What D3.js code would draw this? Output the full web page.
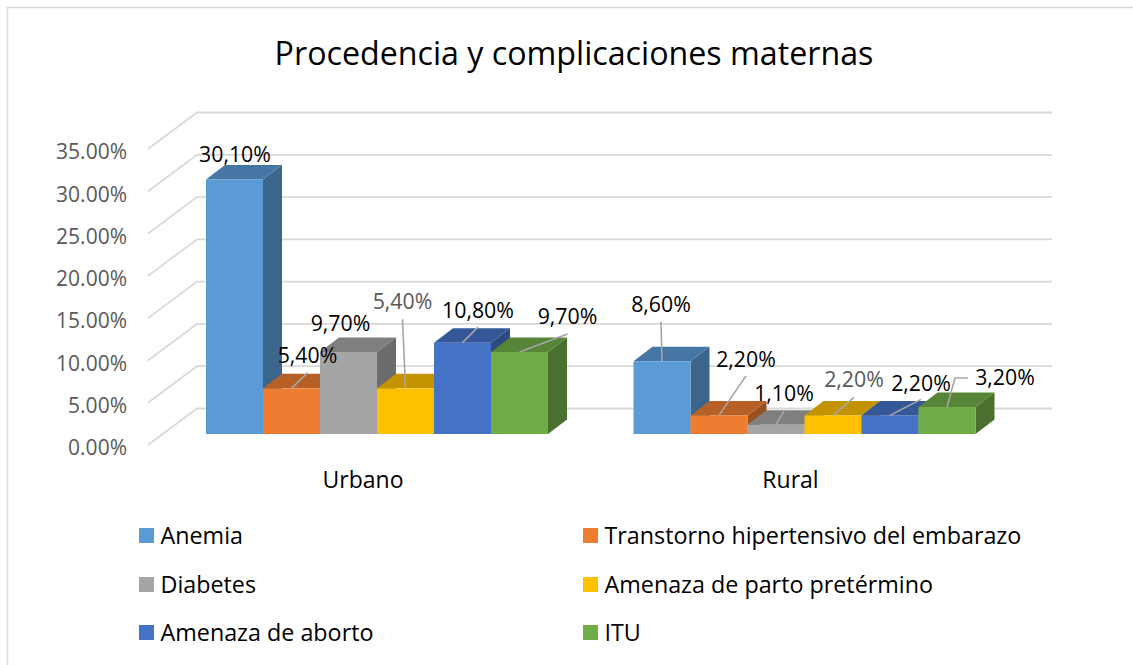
<!DOCTYPE html>
<html><head><meta charset="utf-8">
<script src="https://cdnjs.cloudflare.com/ajax/libs/d3/7.8.5/d3.min.js"></script>
<style>html,body{margin:0;padding:0;background:#fff}svg{display:block}text{font-family:"Open Sans",sans-serif}</style>
</head><body><svg id="c" width="1133" height="665"></svg>
<script>
const title = "Procedencia y complicaciones maternas";
const categories = ["Urbano", "Rural"];
const seriesNames = ["Anemia", "Transtorno hipertensivo del embarazo", "Diabetes", "Amenaza de parto pretérmino", "Amenaza de aborto", "ITU"];
const seriesColors = ["#5B9BD5", "#ED7D31", "#A5A5A5", "#FFC000", "#4472C4", "#70AD47"];
const urbanoValues = [30.1, 5.4, 9.7, 5.4, 10.8, 9.7];
const ruralValues = [8.6, 2.2, 1.1, 2.2, 2.2, 3.2];
const tickValues = [0, 5, 10, 15, 20, 25, 30, 35];

// Layout (label placement relative to the top of each bar: label dx, dy; leader elbow points)
const urbanoLabels = [
  {dx: 0.5, dy: -25, c: "#000"},
  {dx: 16, dy: -33, c: "#000", leader: [[16, -15.5]]},
  {dx: -8, dy: -28, c: "#000"},
  {dx: -3, dy: -86.5, c: "#595959", leader: [[-3, -69]]},
  {dx: 15.5, dy: -32.5, c: "#000", leader: [[15.5, -15.5]]},
  {dx: 48, dy: -35, c: "#000", leader: [[48, -18]]}
];
const ruralLabels = [
  {dx: -1, dy: -57, c: "#000", leader: [[-1, -39.5]]},
  {dx: 27, dy: -56, c: "#000", leader: [[27, -39.5]]},
  {dx: 8, dy: -31.5, c: "#000", leader: [[8, -13.5]]},
  {dx: 21, dy: -36, c: "#595959", leader: [[21, -18]]},
  {dx: 31, dy: -32, c: "#000", leader: [[31, -16]]},
  {dx: 58, dy: -29, c: "#000", leader: [[8, -29], [21, -29]]}
];

const svg = d3.select("#c");
const W = 1133, H = 665;
const wallX0 = 148, wallFloorY = 445, wallTopY = 149;
const backDX = 49, backDY = 36.5, backX1 = 1052;
const barFloorY = 434, depthX = 19, depthY = 14.5;

const yWall = d3.scaleLinear().domain([0, 35]).range([wallFloorY, wallTopY]);
const yBar = v => yWall(v) - (wallFloorY - barFloorY);

// Frame
svg.append("path").attr("d", `M7.5,${H}V7.5H${W}`).attr("fill", "none").attr("stroke", "#d9d9d9").attr("stroke-width", 1.6);

// Title
svg.append("text").attr("x", 574).attr("y", 65).attr("text-anchor", "middle")
  .attr("font-size", 32.2).attr("fill", "#000").text(title);

// Gridlines
const line = d3.line();
svg.append("g").selectAll("path").data(tickValues).join("path")
  .attr("d", t => line([[wallX0, yWall(t)], [wallX0 + backDX, yWall(t) - backDY], [backX1, yWall(t) - backDY]]))
  .attr("fill", "none").attr("stroke", "#d9d9d9").attr("stroke-width", 1.8);

// Y axis
const axis = d3.axisLeft(yWall).tickValues(tickValues).tickSize(0).tickPadding(0)
  .tickFormat(d => d3.format(".2f")(d) + "%");
const gA = svg.append("g").attr("transform", "translate(127,3)").call(axis);
gA.select(".domain").remove();
gA.selectAll("text").attr("font-size", 21).attr("fill", "#595959").style("font-family", '"Open Sans",sans-serif');

// Bars
const x0 = d3.scaleOrdinal().domain(categories).range([206, 633.5]);
const barStep = 57;
const shade = (c, k) => { const r = d3.rgb(c); return d3.rgb(r.r * k, r.g * k, r.b * k).formatHex(); };
const groups = [
  {cat: "Urbano", values: urbanoValues, labels: urbanoLabels},
  {cat: "Rural", values: ruralValues, labels: ruralLabels}
];
const fmt = v => v.toFixed(2).replace(".", ",") + "%";

groups.forEach(g => {
  const x = d3.scaleBand().domain(d3.range(seriesNames.length))
    .range([x0(g.cat), x0(g.cat) + barStep * seriesNames.length]).padding(0);
  const gB = svg.append("g");
  g.values.forEach((v, i) => {
    const l = x(i), w = x.bandwidth(), t = yBar(v), b = yBar(0), col = seriesColors[i];
    const b1 = gB.append("g");
    b1.append("path").attr("d", line([[l + w, t], [l + w + depthX, t - depthY], [l + w + depthX, b - depthY], [l + w, b]]) + "Z").attr("fill", shade(col, 0.65));
    b1.append("path").attr("d", line([[l, t], [l + depthX, t - depthY], [l + w + depthX, t - depthY], [l + w, t]]) + "Z").attr("fill", shade(col, 0.77));
    b1.append("rect").attr("x", l).attr("y", t).attr("width", w).attr("height", b - t).attr("fill", col);
  });
  const gL = svg.append("g");
  g.values.forEach((v, i) => {
    const cx = x(i) + x.bandwidth() / 2, t = yBar(v), lab = g.labels[i];
    if (lab.leader) {
      const pts = [[cx, t]].concat(lab.leader.map(p => [cx + p[0], t + p[1]]));
      gL.append("path").attr("d", line(pts)).attr("fill", "none").attr("stroke", "#a6a6a6").attr("stroke-width", 1.6);
    }
    gL.append("text").attr("x", cx + lab.dx).attr("y", t + lab.dy + 7.5).attr("text-anchor", "middle")
      .attr("font-size", 21.3).attr("fill", lab.c).text(fmt(v));
  });
  svg.append("text").attr("x", x0(g.cat) + barStep * seriesNames.length / 2 - 14).attr("y", 487.5).attr("text-anchor", "middle")
    .attr("font-size", 23).attr("fill", "#000").text(g.cat);
});

// Legend
const legX = [139, 583], legY = [528, 577, 625];
seriesNames.forEach((n, i) => {
  const cx = legX[i % 2], cy = legY[Math.floor(i / 2)];
  svg.append("rect").attr("x", cx).attr("y", cy).attr("width", 15).attr("height", 15).attr("fill", seriesColors[i]);
  svg.append("text").attr("x", cx + 21.5).attr("y", cy + 15.5).attr("font-size", 23.3).attr("fill", "#000").text(n);
});
</script></body></html>
